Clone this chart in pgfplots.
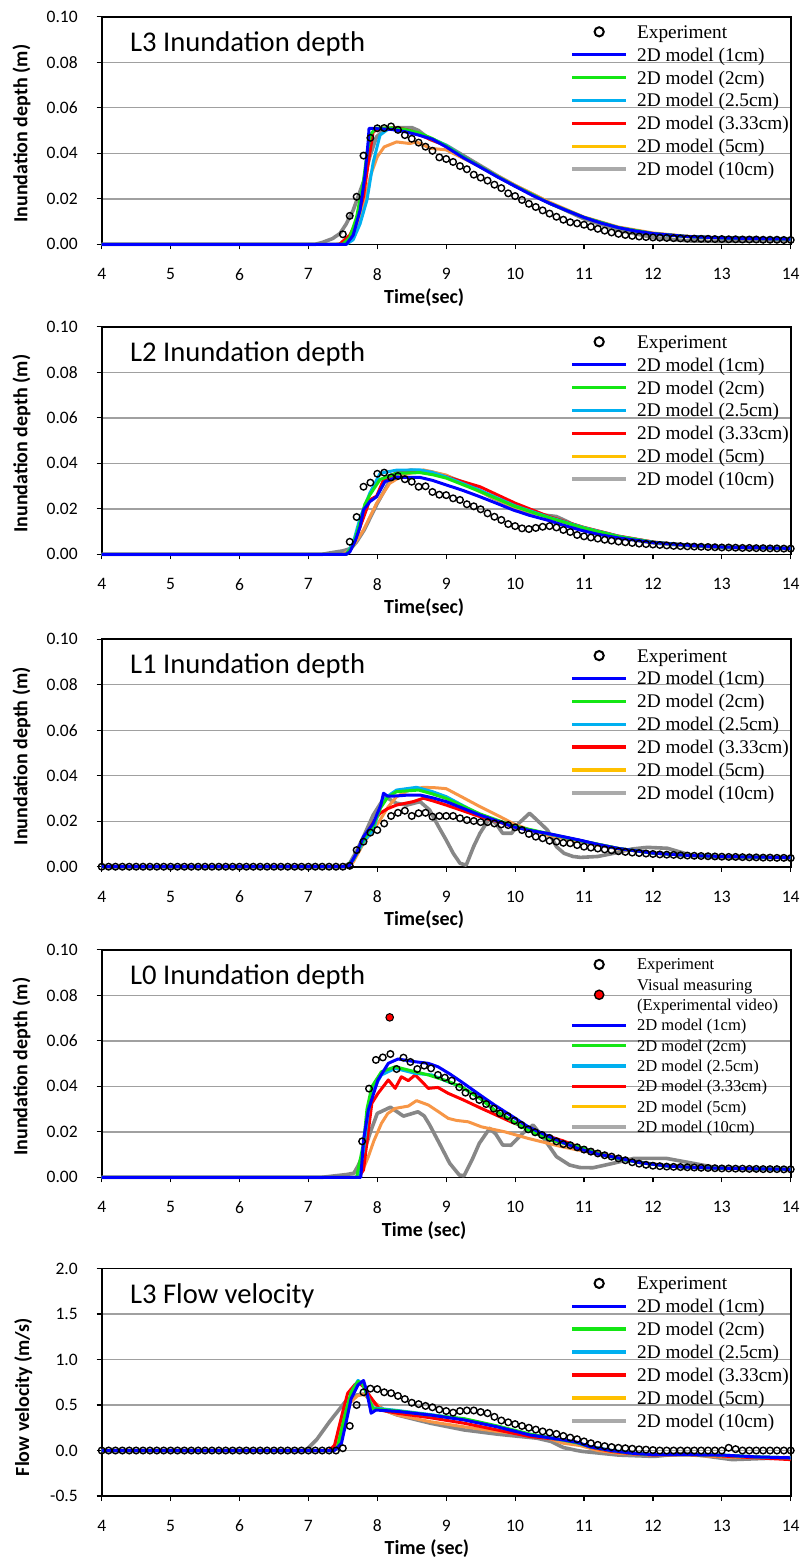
\documentclass[border=0pt]{standalone}
\usepackage{fontspec}
\setmainfont{Carlito}
\newfontfamily\timesf{Liberation Serif}
\usepackage{pgfplots}
\pgfplotsset{compat=1.18}

\definecolor{mblue}{RGB}{0,0,255}
\definecolor{mgreen}{RGB}{20,230,20}
\definecolor{mcyan}{RGB}{0,176,240}
\definecolor{mred}{RGB}{255,0,0}
\definecolor{morange}{RGB}{247,150,70}
\definecolor{mgold}{RGB}{255,192,0}
\definecolor{mgray}{RGB}{135,135,135}
\definecolor{mlgray}{RGB}{170,170,170}
\definecolor{gridgray}{RGB}{160,160,160}

\pgfplotsset{
  panel/.style={
    scale only axis, width=344.5pt, height=113.75pt,
    anchor=south west, clip=false,
    xmin=4, xmax=14, xtick={4,5,6,7,8,9,10,11,12,13,14},
    tick align=outside, xtick pos=bottom, ytick pos=left,
    major tick length=2.5pt,
    tick style={black, line width=0.6pt},
    axis line style={black, line width=0.8pt},
    ymajorgrids, grid style={color=gridgray, line width=0.7pt},
    ticklabel style={font=\fontsize{8.75}{10}\selectfont},
    /pgf/number format/assume math mode=true,
    xticklabel style={anchor=center, yshift=-12.5pt},
    yticklabel style={anchor=east, inner sep=0pt, xshift=-9.3pt},
    label style={font=\bfseries\fontsize{10}{12}\selectfont},
    xlabel style={at={(rel axis cs:0.468,-0.233)}, anchor=center},
    ylabel style={at={(rel axis cs:-0.1164,0.486)}, anchor=center},
    legend cell align=left,
  },
  depth/.style={ymin=0, ymax=0.1, ytick={0,0.02,0.04,0.06,0.08,0.1},
    yticklabels={0.00,0.02,0.04,0.06,0.08,0.10}, ylabel={Inundation depth (m)}},
  leg/.style n args={4}{legend style={draw=none, fill=none, inner sep=0pt,
    anchor=north west, at={(rel axis cs:0.6797,#1)}, row sep=0pt, column sep=4.6pt,
    nodes={inner sep=0pt, font=\timesf\fontsize{#2}{12}\selectfont, text height=#3, text depth=#4}}},
  linelegend/.style={legend image code/.code={\path (0pt,0pt) (27pt,0pt);
    \draw[##1, line width=1.75pt] (0pt,0pt) -- (27pt,0pt);}},
  markerlegend/.style={legend image code/.code={\path (0pt,0pt) (27pt,0pt);
    \draw[##1] plot coordinates {(13.5pt,0pt)};}},
  lowmarkerlegend/.style={legend image code/.code={\path (0pt,0pt) (27pt,0pt);
    \draw[overlay, ##1] plot coordinates {(13.5pt,-5pt)};}},
  explot/.style={forget plot, only marks, mark=o, mark size=1.65pt, black, line width=0.7pt},
  mline/.style={forget plot, no markers, line width=1.5pt, line join=round},
}

\newcommand{\expentry}{%
  \addlegendimage{markerlegend, only marks, mark=o, mark size=2.3pt, black, line width=1pt}
  \addlegendentry{Experiment}}
\newcommand{\modelentries}{%
  \addlegendimage{linelegend, mblue}\addlegendentry{2D model (1cm)}
  \addlegendimage{linelegend, mgreen}\addlegendentry{2D model (2cm)}
  \addlegendimage{linelegend, mcyan}\addlegendentry{2D model (2.5cm)}
  \addlegendimage{linelegend, mred}\addlegendentry{2D model (3.33cm)}
  \addlegendimage{linelegend, mgold}\addlegendentry{2D model (5cm)}
  \addlegendimage{linelegend, mlgray}\addlegendentry{2D model (10cm)}}
\newcommand{\paneltitle}[1]{\node[anchor=base west, font=\fontsize{14.3}{17}\selectfont]
  at (rel axis cs:0.031,0.8475) {#1};}

\begin{document}
\begin{tikzpicture}
\useasboundingbox (0pt,0pt) rectangle (402.5pt,-778.5pt);

% ---------- L3 depth ----------
\begin{axis}[panel, depth, at={(50.85pt,-122.15pt)}, xlabel={Time(sec)}, leg={0.986}{9.65}{8.93pt}{2.52pt}]
\expentry
\modelentries
\addplot[mline, mgray, line width=1.8pt] coordinates {(4,0)(7.1,0)(7.2,0.0008)(7.35,0.0025)(7.46,0.0048)(7.55,0.009)(7.65,0.015)(7.8,0.0275)(7.89,0.0385)(7.99,0.0473)(8.1,0.0502)(8.25,0.0512)(8.5,0.0513)(8.6,0.05)(8.76,0.0462)(9.0,0.0435)(9.25,0.039)(9.5,0.0345)(9.75,0.03)(10.0,0.0258)(10.5,0.0182)(11.0,0.0112)(11.5,0.0062)(12,0.003)(12.5,0.0015)(13,0.0012)(13.5,0.0015)(14,0.0018)};
\addplot[mline, morange] coordinates {(4,0)(7.4,0)(7.6,0.001)(7.7,0.007)(7.8,0.0165)(7.9,0.0301)(8.0,0.0385)(8.1,0.0428)(8.28,0.045)(8.47,0.0443)(8.57,0.045)(8.77,0.0422)(9.0,0.0415)(9.5,0.034)(10,0.026)(10.5,0.0185)(11,0.012)(11.5,0.0076)(12,0.005)(12.5,0.0035)(13,0.0028)(14,0.0024)};
\addplot[mline, mred] coordinates {(4,0)(7.45,0)(7.6,0.004)(7.7,0.01)(7.8,0.021)(7.87,0.036)(7.94,0.0495)(8.05,0.051)(8.3,0.0512)(8.5,0.0498)(8.7,0.047)(8.9,0.0445)(9.0,0.0432)(9.25,0.0385)(9.5,0.034)(9.75,0.0297)(10.0,0.0256)(10.5,0.018)(11.0,0.0118)(11.5,0.0073)(12.0,0.0047)(12.5,0.0034)(13.0,0.0028)(14,0.0023)};
\addplot[mline, mcyan] coordinates {(4,0)(7.55,0)(7.65,0.002)(7.75,0.009)(7.85,0.0195)(7.94,0.036)(8.04,0.048)(8.15,0.0505)(8.3,0.0505)(8.5,0.0495)(8.7,0.0475)(8.9,0.045)(9.0,0.0435)(9.25,0.0385)(9.5,0.034)(9.75,0.0297)(10.0,0.0256)(10.5,0.018)(11.0,0.0118)(11.5,0.0073)(12.0,0.0047)(12.5,0.0034)(13.0,0.0028)(14,0.0023)};
\addplot[mline, mgreen] coordinates {(4,0)(7.5,0)(7.6,0.003)(7.7,0.012)(7.8,0.028)(7.85,0.04)(7.9,0.048)(7.97,0.051)(8.2,0.0512)(8.4,0.0505)(8.6,0.049)(8.8,0.0465)(9.0,0.0432)(9.25,0.0383)(9.5,0.034)(9.75,0.0297)(10.0,0.0256)(10.5,0.018)(11.0,0.0118)(11.5,0.0073)(12.0,0.0047)(12.5,0.0034)(13.0,0.0028)(14,0.0023)};
\addplot[mline, mblue] coordinates {(4,0)(7.55,0)(7.65,0.004)(7.75,0.015)(7.82,0.03)(7.87,0.046)(7.88,0.051)(8.0,0.0508)(8.2,0.0505)(8.4,0.0495)(8.6,0.048)(8.8,0.0462)(9.0,0.0428)(9.25,0.038)(9.5,0.0338)(9.75,0.0295)(10.0,0.0255)(10.25,0.0215)(10.5,0.018)(10.75,0.0148)(11.0,0.0118)(11.25,0.0093)(11.5,0.0073)(11.75,0.0058)(12.0,0.0047)(12.5,0.0034)(13.0,0.0028)(13.5,0.0025)(14,0.0023)};
\addplot[explot] coordinates {(7.5,0.0044)(7.6,0.0125)(7.7,0.0209)(7.8,0.039)(7.9,0.0468)(8.0,0.051)(8.1,0.0511)(8.2,0.0518)(8.3,0.0503)(8.4,0.048)(8.5,0.0464)(8.6,0.0447)(8.7,0.0429)(8.8,0.0411)(8.9,0.0382)(9.0,0.0375)(9.1,0.0362)(9.2,0.0344)(9.3,0.033)(9.4,0.0306)(9.5,0.0293)(9.6,0.028)(9.7,0.0262)(9.8,0.0247)(9.9,0.0224)(10.0,0.0212)(10.1,0.0195)(10.2,0.0178)(10.3,0.0164)(10.4,0.0149)(10.5,0.0135)(10.6,0.0121)(10.7,0.0108)(10.8,0.0097)(10.9,0.0092)(11.0,0.0086)(11.1,0.0077)(11.2,0.0068)(11.3,0.006)(11.4,0.0052)(11.5,0.0046)(11.6,0.0041)(11.7,0.0037)(11.8,0.0034)(11.9,0.0032)(12.0,0.003)(12.1,0.0029)(12.2,0.0028)(12.3,0.0027)(12.4,0.0026)(12.5,0.0025)(12.6,0.0025)(12.7,0.0024)(12.8,0.0024)(12.9,0.0023)(13.0,0.0023)(13.1,0.0022)(13.2,0.0022)(13.3,0.0021)(13.4,0.0021)(13.5,0.0021)(13.6,0.002)(13.7,0.002)(13.8,0.002)(13.9,0.0019)(14.0,0.0019)};
\paneltitle{L3 Inundation depth}
\end{axis}

% ---------- L2 depth ----------
\begin{axis}[panel, depth, at={(50.85pt,-277.15pt)}, xlabel={Time(sec)}, leg={0.986}{9.65}{8.93pt}{2.52pt}]
\expentry
\modelentries
\addplot[mline, mgray, line width=1.8pt] coordinates {(4,0)(7.2,0)(7.33,0.0007)(7.5,0.0015)(7.62,0.0026)(7.7,0.0055)(7.81,0.0107)(8.0,0.0224)(8.19,0.0327)(8.35,0.0362)(8.48,0.037)(8.77,0.0363)(9.0,0.0345)(9.34,0.0305)(9.66,0.025)(9.97,0.0209)(10.2,0.0185)(10.41,0.0173)(10.6,0.0166)(10.75,0.0145)(10.9,0.0121)(11.2,0.0095)(11.5,0.0075)(12,0.005)(12.5,0.0038)(13,0.003)(14,0.0025)};
\addplot[mline, morange] coordinates {(4,0)(7.5,0)(7.6,0.002)(7.7,0.006)(7.8,0.0107)(7.99,0.0224)(8.18,0.0312)(8.38,0.0349)(8.67,0.0371)(9.0,0.0348)(9.49,0.0275)(9.97,0.0209)(10.46,0.0165)(11,0.0118)(11.5,0.008)(12,0.0054)(12.5,0.004)(13,0.0032)(14,0.0026)};
\addplot[mline, mred] coordinates {(4,0)(7.55,0)(7.65,0.004)(7.75,0.012)(7.84,0.0195)(7.89,0.0239)(7.99,0.0256)(8.09,0.0327)(8.28,0.0359)(8.62,0.0363)(8.8,0.0355)(9.0,0.0341)(9.49,0.0297)(10,0.0225)(10.5,0.0165)(11,0.0118)(11.5,0.008)(12,0.0054)(12.5,0.004)(13,0.0032)(14,0.0026)};
\addplot[mline, mcyan] coordinates {(4,0)(7.55,0)(7.65,0.005)(7.75,0.016)(7.89,0.0268)(8.04,0.0356)(8.28,0.037)(8.62,0.0371)(8.8,0.036)(9.0,0.034)(9.5,0.028)(10,0.0213)(10.5,0.0162)(11,0.0117)(11.5,0.0079)(12,0.0053)(12.5,0.004)(13,0.0032)(14,0.0026)};
\addplot[mline, mgreen] coordinates {(4,0)(7.55,0)(7.65,0.004)(7.75,0.014)(7.82,0.022)(7.89,0.026)(8.04,0.0329)(8.28,0.0356)(8.62,0.0359)(8.8,0.035)(9.0,0.0335)(9.5,0.0275)(10,0.021)(10.5,0.016)(11,0.0115)(11.5,0.0078)(12,0.0053)(12.5,0.004)(13,0.0032)(14,0.0026)};
\addplot[mline, mblue] coordinates {(4,0)(7.55,0)(7.6,0.001)(7.68,0.006)(7.75,0.0121)(7.8,0.0195)(7.89,0.0231)(7.99,0.0253)(8.11,0.0319)(8.28,0.0338)(8.62,0.0338)(8.8,0.0325)(9.0,0.0305)(9.25,0.028)(9.49,0.0253)(9.75,0.0222)(9.97,0.0195)(10.2,0.0172)(10.46,0.0151)(10.7,0.0128)(10.94,0.0107)(11.2,0.0088)(11.5,0.0072)(12,0.0052)(12.5,0.004)(13,0.0032)(14,0.0026)};
\addplot[explot] coordinates {(7.6,0.0055)(7.7,0.0164)(7.8,0.0297)(7.9,0.0315)(8.0,0.0354)(8.1,0.0359)(8.2,0.0338)(8.3,0.0344)(8.4,0.033)(8.5,0.0319)(8.6,0.0297)(8.7,0.0299)(8.8,0.0274)(8.9,0.0262)(9.0,0.026)(9.1,0.0246)(9.2,0.0239)(9.3,0.022)(9.4,0.0211)(9.5,0.0198)(9.6,0.018)(9.7,0.0165)(9.8,0.0151)(9.9,0.0133)(10.0,0.0124)(10.1,0.0114)(10.2,0.0111)(10.3,0.0116)(10.4,0.0121)(10.5,0.0124)(10.6,0.0118)(10.7,0.0107)(10.8,0.0098)(10.9,0.0085)(11.0,0.0079)(11.1,0.0074)(11.2,0.0069)(11.3,0.0064)(11.4,0.006)(11.5,0.0056)(11.6,0.0053)(11.7,0.005)(11.8,0.0047)(11.9,0.0045)(12.0,0.0043)(12.1,0.0041)(12.2,0.0039)(12.3,0.0037)(12.4,0.0036)(12.5,0.0035)(12.6,0.0034)(12.7,0.0033)(12.8,0.0032)(12.9,0.0031)(13.0,0.003)(13.1,0.003)(13.2,0.0029)(13.3,0.0028)(13.4,0.0028)(13.5,0.0027)(13.6,0.0027)(13.7,0.0026)(13.8,0.0026)(13.9,0.0025)(14.0,0.0025)};
\paneltitle{L2 Inundation depth}
\end{axis}

% ---------- L1 depth ----------
\begin{axis}[panel, depth, at={(50.85pt,-433.35pt)}, xlabel={Time(sec)}, leg={0.98}{9.65}{8.93pt}{2.52pt}]
\expentry
\modelentries
\addplot[mline, mgray, line width=1.8pt] coordinates {(4,0)(7.5,0)(7.6,0.0015)(7.7,0.007)(7.8,0.0132)(7.94,0.0227)(8.11,0.0308)(8.28,0.0279)(8.43,0.0271)(8.62,0.0286)(8.76,0.0249)(8.9,0.017)(9.0,0.0117)(9.1,0.006)(9.2,0.0015)(9.29,0.0007)(9.4,0.009)(9.49,0.0147)(9.63,0.0213)(9.72,0.019)(9.82,0.0147)(9.95,0.0147)(10.05,0.019)(10.21,0.0235)(10.3,0.021)(10.47,0.0161)(10.6,0.0088)(10.71,0.0059)(10.84,0.0045)(10.95,0.0041)(11.2,0.0045)(11.43,0.0059)(11.7,0.0078)(11.92,0.0085)(12.21,0.0081)(12.55,0.0051)(12.89,0.0041)(13.5,0.004)(14,0.004)};
\addplot[mline, morange] coordinates {(4,0)(7.55,0)(7.65,0.002)(7.8,0.0103)(8.04,0.0205)(8.15,0.026)(8.28,0.0308)(8.45,0.0335)(8.67,0.0349)(8.85,0.0347)(9.0,0.0343)(9.25,0.0303)(9.49,0.0264)(9.75,0.0225)(9.97,0.019)(10.2,0.0163)(10.46,0.0139)(10.94,0.011)(11.5,0.0078)(12,0.006)(12.5,0.005)(13,0.0045)(14,0.004)};
\addplot[mline, mred] coordinates {(4,0)(7.55,0)(7.65,0.003)(7.8,0.0117)(7.95,0.02)(8.04,0.0235)(8.15,0.0255)(8.28,0.0271)(8.52,0.0286)(8.67,0.0301)(8.8,0.029)(9.0,0.0271)(9.25,0.0245)(9.49,0.022)(9.75,0.0198)(9.97,0.0176)(10.46,0.0145)(10.94,0.0115)(11.5,0.008)(12,0.006)(12.5,0.005)(13,0.0045)(14,0.004)};
\addplot[mline, mcyan] coordinates {(4,0)(7.55,0)(7.65,0.003)(7.8,0.011)(7.94,0.0161)(8.05,0.027)(8.15,0.031)(8.28,0.0337)(8.57,0.0349)(8.8,0.033)(9.0,0.0308)(9.49,0.0229)(9.97,0.0178)(10.46,0.0145)(10.94,0.0115)(11.5,0.008)(12,0.006)(12.5,0.005)(13,0.0045)(14,0.004)};
\addplot[mline, mgreen] coordinates {(4,0)(7.55,0)(7.65,0.003)(7.8,0.012)(7.94,0.018)(8.05,0.026)(8.15,0.0305)(8.28,0.033)(8.6,0.0337)(8.8,0.032)(9.0,0.03)(9.49,0.0232)(9.97,0.018)(10.46,0.0147)(10.94,0.0115)(11.5,0.008)(12,0.006)(12.5,0.005)(13,0.0045)(14,0.004)};
\addplot[mline, mblue] coordinates {(4,0)(7.55,0)(7.6,0.0007)(7.7,0.006)(7.8,0.0132)(7.94,0.019)(8.05,0.027)(8.09,0.0323)(8.15,0.031)(8.28,0.0311)(8.45,0.0315)(8.62,0.0315)(8.8,0.0303)(9.0,0.0286)(9.25,0.0256)(9.49,0.0227)(9.75,0.02)(9.97,0.0176)(10.2,0.016)(10.46,0.0147)(10.7,0.0132)(10.94,0.0117)(11.2,0.0098)(11.5,0.008)(12,0.006)(12.5,0.005)(13,0.0045)(14,0.004)};
\addplot[explot] coordinates {(4.0,0)(4.1,0)(4.2,0)(4.3,0)(4.4,0)(4.5,0)(4.6,0)(4.7,0)(4.8,0)(4.9,0)(5.0,0)(5.1,0)(5.2,0)(5.3,0)(5.4,0)(5.5,0)(5.6,0)(5.7,0)(5.8,0)(5.9,0)(6.0,0)(6.1,0)(6.2,0)(6.3,0)(6.4,0)(6.5,0)(6.6,0)(6.7,0)(6.8,0)(6.9,0)(7.0,0)(7.1,0)(7.2,0)(7.3,0)(7.4,0)(7.5,0)(7.6,0.0004)(7.7,0.0073)(7.8,0.011)(7.9,0.015)(8.0,0.0161)(8.1,0.019)(8.2,0.0223)(8.3,0.0237)(8.4,0.0246)(8.5,0.0223)(8.6,0.0235)(8.7,0.0237)(8.8,0.022)(8.9,0.0223)(9.0,0.0223)(9.1,0.0223)(9.2,0.0213)(9.3,0.0205)(9.4,0.0201)(9.5,0.0196)(9.6,0.0196)(9.7,0.019)(9.8,0.0186)(9.9,0.0183)(10.0,0.0173)(10.1,0.0161)(10.2,0.0144)(10.3,0.0132)(10.4,0.0125)(10.5,0.0114)(10.6,0.011)(10.7,0.0105)(10.8,0.0103)(10.9,0.0095)(11.0,0.0088)(11.1,0.0084)(11.2,0.008)(11.3,0.0076)(11.4,0.0072)(11.5,0.0068)(11.6,0.0065)(11.7,0.0062)(11.8,0.006)(11.9,0.0058)(12.0,0.0056)(12.1,0.0054)(12.2,0.0053)(12.3,0.0052)(12.4,0.005)(12.5,0.0049)(12.6,0.0048)(12.7,0.0047)(12.8,0.0046)(12.9,0.0045)(13.0,0.0044)(13.1,0.0043)(13.2,0.0043)(13.3,0.0042)(13.4,0.0041)(13.5,0.0041)(13.6,0.004)(13.7,0.004)(13.8,0.0039)(13.9,0.0039)(14.0,0.0038)};
\paneltitle{L1 Inundation depth}
\end{axis}

% ---------- L0 depth ----------
\begin{axis}[panel, depth, at={(50.85pt,-588.65pt)}, xlabel={Time (sec)}, leg={0.982}{8.27}{7.82pt}{2.33pt}]
\expentry
\addlegendimage{lowmarkerlegend, only marks, mark=*, mark size=2.3pt, fill=mred, draw=black, line width=0.7pt}
\addlegendentry{Visual measuring}
\addlegendimage{empty legend}
\addlegendentry{(Experimental video)}
\modelentries
\addplot[mline, mgray, line width=1.8pt] coordinates {(4,0)(7.2,0)(7.37,0.0006)(7.55,0.0012)(7.66,0.0018)(7.72,0.005)(7.8,0.0105)(7.9,0.02)(8.0,0.0281)(8.19,0.0308)(8.38,0.0269)(8.59,0.0288)(8.68,0.027)(8.76,0.023)(8.9,0.015)(9.05,0.0062)(9.19,0.001)(9.26,0.0007)(9.38,0.008)(9.48,0.0149)(9.63,0.0215)(9.72,0.019)(9.82,0.0142)(9.94,0.0141)(10.11,0.0193)(10.26,0.023)(10.4,0.0178)(10.6,0.0091)(10.79,0.0054)(10.94,0.0043)(11.13,0.0042)(11.4,0.006)(11.72,0.0083)(12.2,0.0083)(12.54,0.0064)(12.93,0.0042)(13.5,0.0036)(14,0.0035)};
\addplot[mline, morange] coordinates {(4,0)(7.7,0)(7.76,0.001)(7.87,0.0091)(7.95,0.016)(8.06,0.0237)(8.15,0.028)(8.26,0.0303)(8.45,0.0313)(8.57,0.0337)(8.74,0.0318)(8.88,0.029)(9.03,0.0259)(9.15,0.025)(9.32,0.0244)(9.51,0.0222)(9.85,0.02)(10.19,0.0171)(10.67,0.0135)(10.91,0.012)(11.2,0.0102)(11.5,0.0085)(11.8,0.0067)(12.2,0.0052)(12.6,0.0044)(13,0.004)(14,0.0035)};
\addplot[mline, mred] coordinates {(4,0)(7.72,0)(7.8,0.0032)(7.86,0.018)(7.92,0.0325)(8.01,0.0369)(8.16,0.0428)(8.26,0.0391)(8.35,0.0442)(8.45,0.0425)(8.55,0.045)(8.65,0.042)(8.74,0.0391)(8.88,0.0395)(9.03,0.0369)(9.25,0.034)(9.46,0.031)(9.7,0.0277)(9.94,0.0244)(10.2,0.0213)(10.43,0.0186)(10.7,0.016)(10.91,0.0135)(11.2,0.0108)(11.5,0.0085)(11.8,0.0065)(12.2,0.005)(12.6,0.0043)(13,0.004)(14,0.0035)};
\addplot[mline, mcyan] coordinates {(4,0)(7.72,0)(7.8,0.012)(7.86,0.027)(7.92,0.0376)(8.06,0.045)(8.26,0.0479)(8.55,0.0457)(8.79,0.045)(9.0,0.0423)(9.22,0.0398)(9.5,0.0345)(9.7,0.0296)(10.0,0.024)(10.19,0.0208)(10.5,0.0165)(10.91,0.0135)(11.2,0.0105)(11.5,0.0083)(11.8,0.0065)(12.2,0.005)(12.6,0.0043)(13,0.004)(14,0.0035)};
\addplot[mline, mgreen] coordinates {(4,0)(7.7,0)(7.8,0.015)(7.85,0.03)(7.92,0.0398)(8.06,0.0464)(8.26,0.0486)(8.55,0.0464)(8.74,0.045)(9.0,0.0425)(9.22,0.0398)(9.5,0.0345)(9.7,0.0296)(10.0,0.024)(10.19,0.0208)(10.5,0.0165)(10.91,0.0135)(11.2,0.0105)(11.5,0.0083)(11.8,0.0065)(12.2,0.005)(12.6,0.0043)(13,0.004)(14,0.0035)};
\addplot[mline, mblue] coordinates {(4,0)(7.76,0)(7.78,0.008)(7.8,0.0164)(7.87,0.0296)(8.01,0.0428)(8.16,0.0501)(8.3,0.052)(8.55,0.0508)(8.74,0.0501)(8.88,0.0486)(9.05,0.0455)(9.22,0.042)(9.5,0.036)(9.7,0.0318)(10.0,0.026)(10.19,0.0222)(10.45,0.0185)(10.67,0.0156)(10.91,0.0127)(11.2,0.0102)(11.5,0.0085)(11.8,0.0065)(12.2,0.005)(12.6,0.0043)(13,0.004)(14,0.0035)};
\addplot[explot] coordinates {(7.78,0.0158)(7.88,0.039)(7.98,0.0516)(8.08,0.0527)(8.19,0.0542)(8.28,0.0476)(8.38,0.0526)(8.48,0.0507)(8.58,0.0476)(8.68,0.0491)(8.78,0.0479)(8.88,0.045)(8.98,0.0438)(9.08,0.0425)(9.19,0.0396)(9.28,0.0372)(9.39,0.0357)(9.48,0.034)(9.58,0.0322)(9.69,0.0302)(9.78,0.0281)(9.89,0.0269)(9.99,0.0249)(10.09,0.023)(10.19,0.0211)(10.29,0.0198)(10.39,0.0186)(10.5,0.0173)(10.6,0.0158)(10.7,0.0146)(10.8,0.0141)(10.9,0.0132)(11.0,0.0122)(11.1,0.0113)(11.2,0.0105)(11.3,0.0097)(11.4,0.0091)(11.5,0.0083)(11.6,0.0075)(11.7,0.0066)(11.8,0.006)(11.9,0.0055)(12.0,0.0051)(12.1,0.0049)(12.2,0.0047)(12.3,0.0046)(12.4,0.0045)(12.5,0.0044)(12.6,0.0043)(12.7,0.0042)(12.8,0.0041)(12.9,0.004)(13.0,0.0039)(13.1,0.0039)(13.2,0.0038)(13.3,0.0038)(13.4,0.0037)(13.5,0.0037)(13.6,0.0036)(13.7,0.0036)(13.8,0.0036)(13.9,0.0035)(14.0,0.0035)};
\addplot[forget plot, only marks, mark=*, mark size=1.9pt, fill=mred, draw=black, line width=0.5pt] coordinates {(8.18,0.0703)};
\paneltitle{L0 Inundation depth}
\end{axis}

% ---------- L3 velocity ----------
\begin{axis}[panel, at={(50.85pt,-748pt)}, ymin=-0.5, ymax=2, ytick={-0.5,0,0.5,1,1.5,2},
  yticklabels={-0.5,0.0,0.5,1.0,1.5,2.0}, xlabel={Time (sec)}, ylabel={Flow velocity (m/s)},
  ylabel style={at={(rel axis cs:-0.114,0.435)}}, xlabel style={at={(rel axis cs:0.472,-0.233)}},
  leg={0.9866}{9.65}{8.93pt}{2.52pt}]
\expentry
\modelentries
\addplot[mline, mgray, line width=1.8pt] coordinates {(4,0)(6.95,0)(7.0,0.03)(7.12,0.12)(7.31,0.32)(7.54,0.54)(7.7,0.61)(7.81,0.62)(7.96,0.52)(8.1,0.445)(8.29,0.39)(8.77,0.3)(9.26,0.226)(9.74,0.18)(10.32,0.135)(10.52,0.1)(10.7,0.033)(10.9,0.0)(10.98,-0.01)(11.5,-0.05)(12.02,-0.065)(12.47,-0.03)(13.15,-0.1)(14,-0.077)};
\addplot[mline, morange] coordinates {(4,0)(7.3,0)(7.38,0.02)(7.47,0.33)(7.57,0.5)(7.71,0.6)(7.8,0.62)(7.94,0.54)(8.09,0.445)(8.29,0.39)(8.77,0.317)(9.26,0.26)(9.74,0.21)(10.22,0.17)(10.5,0.13)(10.7,0.08)(10.94,0.055)(11.2,0.0)(11.5,-0.03)(12,-0.05)(12.5,-0.05)(13,-0.07)(13.5,-0.08)(14,-0.09)};
\addplot[mline, mred] coordinates {(4,0)(7.3,0)(7.38,0.06)(7.5,0.43)(7.57,0.63)(7.67,0.72)(7.72,0.755)(7.8,0.7)(7.9,0.59)(8.04,0.445)(8.29,0.41)(8.77,0.36)(9.26,0.3)(9.74,0.226)(10.22,0.153)(10.7,0.117)(10.9,0.09)(11.1,0.035)(11.4,-0.01)(11.7,-0.035)(12,-0.05)(12.5,-0.045)(13,-0.06)(13.5,-0.08)(14,-0.1)};
\addplot[mline, mcyan] coordinates {(4,0)(7.36,0)(7.44,0.05)(7.54,0.4)(7.63,0.65)(7.72,0.77)(7.78,0.74)(7.86,0.6)(7.93,0.47)(8.29,0.44)(8.77,0.395)(9.26,0.345)(9.74,0.265)(10.22,0.175)(10.7,0.115)(10.9,0.085)(11.1,0.04)(11.4,0.0)(11.7,-0.03)(12,-0.045)(12.5,-0.045)(13,-0.05)(13.5,-0.07)(14,-0.08)};
\addplot[mline, mgreen] coordinates {(4,0)(7.35,0)(7.42,0.03)(7.53,0.39)(7.62,0.64)(7.72,0.76)(7.79,0.73)(7.87,0.57)(7.94,0.46)(8.29,0.435)(8.77,0.39)(9.26,0.35)(9.74,0.27)(10.22,0.18)(10.7,0.115)(10.9,0.085)(11.1,0.04)(11.4,0.0)(11.7,-0.03)(12,-0.045)(12.5,-0.045)(13,-0.05)(13.5,-0.07)(14,-0.08)};
\addplot[mline, mblue] coordinates {(4,0)(7.38,0)(7.48,0.08)(7.55,0.32)(7.62,0.57)(7.72,0.72)(7.8,0.77)(7.84,0.67)(7.91,0.41)(7.98,0.445)(8.29,0.43)(8.77,0.39)(9.26,0.336)(9.74,0.26)(10.22,0.17)(10.5,0.14)(10.7,0.117)(10.9,0.09)(11.1,0.04)(11.4,0.0)(11.7,-0.03)(12.0,-0.045)(12.5,-0.045)(13.0,-0.05)(13.5,-0.07)(14,-0.08)};
\addplot[explot] coordinates {(4.0,0)(4.1,0)(4.2,0)(4.3,0)(4.4,0)(4.5,0)(4.6,0)(4.7,0)(4.8,0)(4.9,0)(5.0,0)(5.1,0)(5.2,0)(5.3,0)(5.4,0)(5.5,0)(5.6,0)(5.7,0)(5.8,0)(5.9,0)(6.0,0)(6.1,0)(6.2,0)(6.3,0)(6.4,0)(6.5,0)(6.6,0)(6.7,0)(6.8,0)(6.9,0)(7.0,0)(7.1,0)(7.2,0)(7.3,0)(7.4,0)(7.5,0.025)(7.6,0.27)(7.7,0.5)(7.8,0.64)(7.9,0.68)(8.0,0.675)(8.1,0.64)(8.2,0.63)(8.3,0.6)(8.4,0.565)(8.5,0.525)(8.6,0.51)(8.7,0.49)(8.8,0.475)(8.9,0.45)(9.0,0.434)(9.1,0.416)(9.2,0.434)(9.3,0.44)(9.4,0.44)(9.5,0.423)(9.6,0.41)(9.7,0.37)(9.8,0.33)(9.9,0.31)(10.0,0.29)(10.1,0.27)(10.2,0.25)(10.3,0.23)(10.4,0.21)(10.5,0.197)(10.6,0.182)(10.7,0.16)(10.8,0.142)(10.9,0.124)(11.0,0.1)(11.1,0.08)(11.2,0.062)(11.3,0.048)(11.4,0.038)(11.5,0.03)(11.6,0.025)(11.7,0.02)(11.8,0.013)(11.9,0.01)(12.0,0.005)(12.1,0)(12.2,0)(12.3,0)(12.4,0)(12.5,0)(12.6,0)(12.7,0)(12.8,0)(12.9,0)(13.0,0)(13.1,0.03)(13.2,0.015)(13.3,0)(13.4,0)(13.5,0)(13.6,0)(13.7,0)(13.8,0)(13.9,0)(14.0,0)};
\paneltitle{L3 Flow velocity}
\end{axis}
\end{tikzpicture}
\end{document}
